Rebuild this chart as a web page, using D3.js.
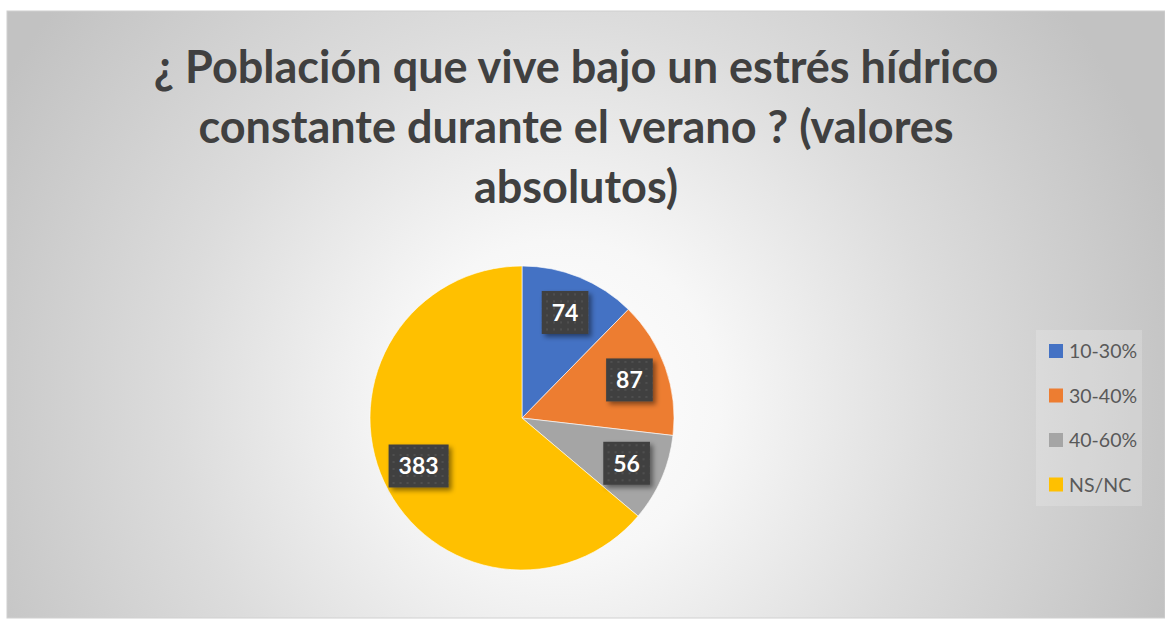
<!DOCTYPE html>
<html>
<head>
<meta charset="utf-8">
<script src="https://cdn.jsdelivr.net/npm/d3@7"></script>
<style>
  body { margin: 0; background: #ffffff; }
  svg { display: block; }
</style>
</head>
<body>
<svg id="chart" width="1165" height="619"></svg>
<script>
// data
var categorias = ["10-30%", "30-40%", "40-60%", "NS/NC"];
var valores = [74, 87, 56, 383];
var colores = ["#4472C4", "#ED7D31", "#A5A5A5", "#FFC000"];
var titulo = ["\u00BF Poblaci\u00F3n que vive bajo un estr\u00E9s h\u00EDdrico",
              "constante durante el verano ? (valores",
              "absolutos)"];

var svg = d3.select("#chart");
var W = 1165, H = 619;
var fuente = "Lato, 'Open Sans', sans-serif";

var defs = svg.append("defs");

// fondo con degradado radial
var grad = defs.append("radialGradient")
    .attr("id", "fondo")
    .attr("gradientUnits", "userSpaceOnUse")
    .attr("cx", 560).attr("cy", 400).attr("r", 640);
grad.append("stop").attr("offset", "0").attr("stop-color", "#ffffff");
grad.append("stop").attr("offset", "0.25").attr("stop-color", "#f7f7f7");
grad.append("stop").attr("offset", "0.6").attr("stop-color", "#dcdcdc");
grad.append("stop").attr("offset", "1").attr("stop-color", "#c2c2c2");

// textura de puntos para las etiquetas
var pat = defs.append("pattern")
    .attr("id", "puntos")
    .attr("patternUnits", "userSpaceOnUse")
    .attr("width", 7).attr("height", 7);
pat.append("rect").attr("width", 7).attr("height", 7).attr("fill", "#404040");
pat.append("rect").attr("x", 2).attr("y", 2).attr("width", 2).attr("height", 2).attr("fill", "#4f4f4f");

var sombra = defs.append("filter")
    .attr("id", "sombra")
    .attr("x", "-30%").attr("y", "-30%").attr("width", "170%").attr("height", "170%");
sombra.append("feDropShadow")
    .attr("dx", 3).attr("dy", 3).attr("stdDeviation", 2.5)
    .attr("flood-color", "#000").attr("flood-opacity", 0.45);

svg.append("rect")
    .attr("x", 7).attr("y", 11)
    .attr("width", W - 7).attr("height", 607)
    .attr("fill", "url(#fondo)")
    .attr("stroke", "#d0d0d0").attr("stroke-width", 1);

// titulo
var tit = svg.append("text")
    .attr("text-anchor", "middle")
    .attr("font-family", fuente)
    .attr("font-weight", "bold")
    .attr("font-size", 37)
    .attr("fill", "#404040");
tit.selectAll("tspan")
    .data(titulo)
    .enter().append("tspan")
    .attr("x", 576)
    .attr("y", function(d, i) { return 83 + i * 60; })
    .text(function(d) { return d; });

// ajustar tamaño para que la primera linea mida lo mismo que el original
var ancho = tit.select("tspan").node().getComputedTextLength();
tit.attr("font-size", 37 * 845 / ancho);

// tarta
var cx = 522, cy = 418, R = 152;
var pie = d3.pie().sort(null).value(function(d) { return d; });
var arcos = pie(valores);
var arc = d3.arc().innerRadius(0).outerRadius(R);
var arcEtiqueta = d3.arc().innerRadius(114).outerRadius(114);

var g = svg.append("g").attr("transform", "translate(" + cx + "," + cy + ")");

g.selectAll("path")
    .data(arcos)
    .enter().append("path")
    .attr("d", arc)
    .attr("fill", function(d, i) { return colores[i]; })
    .attr("stroke", "#ffffff")
    .attr("stroke-width", 1)
    .attr("stroke-opacity", 0.6);

var etiquetas = g.selectAll("g.etq")
    .data(arcos)
    .enter().append("g")
    .attr("class", "etq")
    .attr("transform", function(d) {
        var c = arcEtiqueta.centroid(d);
        return "translate(" + c[0] + "," + c[1] + ")";
    });

etiquetas.each(function(d) {
    var el = d3.select(this);
    var t = el.append("text")
        .attr("text-anchor", "middle")
        .attr("dy", "0.36em")
        .attr("font-family", fuente)
        .attr("font-weight", "bold")
        .attr("font-size", 23)
        .attr("fill", "#ffffff")
        .text(d.data);
    var w = t.node().getComputedTextLength() + 20;
    var h = 43;
    el.insert("rect", "text")
        .attr("x", -w / 2).attr("y", -h / 2)
        .attr("width", w).attr("height", h)
        .attr("fill", "url(#puntos)")
        .attr("filter", "url(#sombra)");
});

// leyenda
svg.append("rect")
    .attr("x", 1036).attr("y", 330)
    .attr("width", 106).attr("height", 176)
    .attr("fill", "#ffffff").attr("fill-opacity", 0.18);

var ley = svg.selectAll("g.ley")
    .data(categorias)
    .enter().append("g")
    .attr("class", "ley")
    .attr("transform", function(d, i) { return "translate(1049," + (351 + i * 44.5) + ")"; });

ley.append("rect")
    .attr("x", 0).attr("y", -7)
    .attr("width", 14).attr("height", 14)
    .attr("fill", function(d, i) { return colores[i]; });

ley.append("text")
    .attr("x", 20)
    .attr("dy", "0.36em")
    .attr("font-family", fuente)
    .attr("font-size", 19.5)
    .attr("fill", "#595959")
    .text(function(d) { return d; });
</script>
</body>
</html>
